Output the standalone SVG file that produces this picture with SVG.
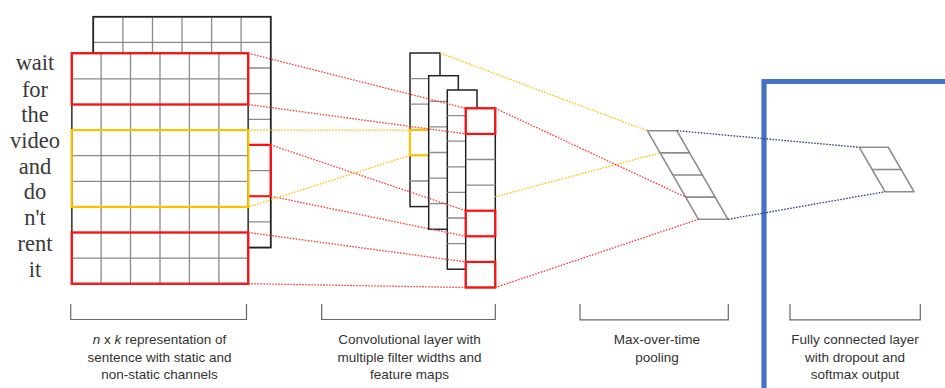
<svg xmlns="http://www.w3.org/2000/svg" width="945" height="388" viewBox="0 0 945 388">
<style>
.grid{stroke:#8a8a8a;stroke-width:1.3;fill:none}
.box{stroke:#222;stroke-width:1.5;fill:#fff}
.red{stroke:#ff1010;stroke-width:2.2;fill:none}
.yel{stroke:#ffc000;stroke-width:2.2;fill:none}
.par{stroke:#8c8c8c;stroke-width:1.6;fill:#fff;stroke-linejoin:round}
.pl{stroke:#8c8c8c;stroke-width:1.6}
.dr{stroke:#ff3a3a;stroke-width:1.3;stroke-dasharray:1.6 1.4;fill:none}
.dy{stroke:#ffc000;stroke-width:1.3;stroke-dasharray:1.6 1.4;fill:none}
.db{stroke:#27417f;stroke-width:1.3;stroke-dasharray:1.6 1.4;fill:none}
.word{font-family:"Liberation Serif","DejaVu Serif",serif;font-size:22.5px;fill:#3a3a3a;text-anchor:middle}
.lab{font-family:"Liberation Sans",Arial,sans-serif;font-size:13.5px;fill:#333;text-anchor:middle}
.brk{stroke:#666;stroke-width:1.2;fill:none}
</style>

<g id="words">
<text class="word" x="35" y="70">wait</text>
<text class="word" x="35" y="96.5">for</text>
<text class="word" x="35" y="122.3">the</text>
<text class="word" x="35" y="148">video</text>
<text class="word" x="35" y="173.5">and</text>
<text class="word" x="35" y="199.3">do</text>
<text class="word" x="35" y="225">n't</text>
<text class="word" x="35" y="251">rent</text>
<text class="word" x="35" y="277">it</text>
</g>

<g id="back-matrix">
<rect class="box" x="93.3" y="16.7" width="177.4" height="230.85"/>
<path class="grid" d="M122.9 16.7V247.5M152.5 16.7V247.5M182 16.7V247.5M211.6 16.7V247.5M241.1 16.7V247.5M93.3 42.35H270.7M93.3 68H270.7M93.3 93.65H270.7M93.3 119.3H270.7M93.3 144.95H270.7M93.3 170.6H270.7M93.3 196.25H270.7M93.3 221.9H270.7"/>
<rect x="93.3" y="16.7" width="177.4" height="230.85" fill="none" stroke="#222" stroke-width="1.5"/>
<polyline class="red" points="248.3,144.95 270.7,144.95 270.7,196.25 248.3,196.25"/>
</g>

<g id="front-matrix">
<rect x="71.7" y="53.3" width="176.6" height="230.4" fill="#fff" stroke="#333" stroke-width="1.5"/>
<path class="grid" d="M101.1 53.3V283.7M130.5 53.3V283.7M160 53.3V283.7M189.4 53.3V283.7M218.9 53.3V283.7M71.7 78.9H248.3M71.7 104.5H248.3M71.7 130.1H248.3M71.7 155.7H248.3M71.7 181.3H248.3M71.7 206.9H248.3M71.7 232.5H248.3M71.7 258.1H248.3"/>
<rect x="71.7" y="53.3" width="176.6" height="230.4" fill="none" stroke="#444" stroke-width="1.4"/>
<rect class="red" x="71.7" y="53.3" width="176.6" height="51.2"/>
<rect class="yel" x="71.7" y="130.1" width="176.6" height="76.8"/>
<rect class="red" x="71.7" y="232.5" width="176.6" height="51.2"/>
</g>

<g id="feature-map-1">
<rect class="box" x="410" y="53" width="30" height="153.6"/>
<path class="grid" d="M410 78.6H440M410 104.2H440M410 129.8H440M410 155.4H440M410 181H440"/>
<polyline class="yel" points="428.7,129.8 410,129.8 410,155.4 428.7,155.4"/>
</g>
<g id="feature-map-2">
<rect class="box" x="428.7" y="75.7" width="29.6" height="153.6"/>
<path class="grid" d="M428.7 101.3H458.3M428.7 126.9H458.3M428.7 152.5H458.3M428.7 178.1H458.3M428.7 203.7H458.3"/>
</g>
<g id="feature-map-3">
<rect class="box" x="447.3" y="90" width="29.7" height="179.2"/>
<path class="grid" d="M447.3 115.6H477M447.3 141.2H477M447.3 166.8H477M447.3 192.4H477M447.3 218H477M447.3 243.6H477"/>
</g>
<g id="feature-map-4">
<rect class="box" x="465.7" y="108.3" width="29.6" height="179.2"/>
<path class="grid" d="M465.7 133.9H495.3M465.7 159.5H495.3M465.7 185.1H495.3M465.7 210.7H495.3M465.7 236.3H495.3M465.7 261.9H495.3"/>
<rect class="red" x="465.7" y="108.3" width="29.6" height="25.6"/>
<rect class="red" x="465.7" y="210.7" width="29.6" height="25.6"/>
<rect class="red" x="465.7" y="261.9" width="29.6" height="25.6"/>
</g>

<g id="pooling">
<polygon class="par" points="647.3,130.7 676.8,130.7 728,219.3 698.5,219.3"/>
<path class="pl" d="M660.1 152.85H689.6M672.9 175H702.4M685.7 197.15H715.2"/>
</g>

<g id="fully-connected">
<polygon class="par" points="859.3,147.3 888.3,147.3 914,191.7 885,191.7"/>
<path class="pl" d="M872.2 169.5H901.2"/>
</g>

<g id="blue-frame">
<path d="M764 388V81.5H945" fill="none" stroke="#4472c4" stroke-width="5.2"/>
</g>

<g id="connectors">
<path class="dr" d="M248.3 53.3L465.7 108.3M248.3 104.5L465.7 133.9M270.7 144.95L465.7 210.7M270.7 196.25L465.7 236.3M248.3 232.5L465.7 261.9M248.3 283.7L465.7 287.5"/>
<path class="dy" d="M248.3 130.1L410 130.1M248.3 206.9L410 155.4"/>
<path class="dy" d="M440 53L647.3 130.7M495.3 196.7L660.1 152.85"/>
<path class="dr" d="M495.3 108.3L685.7 197.15M495.3 287.5L698.5 219.3"/>
<path class="db" d="M676.8 130.7L859.3 147.3M728 219.3L885 191.7"/>
</g>

<g id="labels">
<path class="brk" d="M70.7 304V319.5H246.5V304"/>
<path class="brk" d="M321.7 304V319.5H495.3V304"/>
<path class="brk" d="M580 304V319.8H728.3V304"/>
<path class="brk" d="M790 304V319.8H920.3V304"/>
<text class="lab" x="159.5" y="344"><tspan font-style="italic">n</tspan> x <tspan font-style="italic">k</tspan> representation of</text>
<text class="lab" x="159.5" y="361.5">sentence with static and</text>
<text class="lab" x="159.5" y="378.5">non-static channels</text>
<text class="lab" x="409.5" y="344">Convolutional layer with</text>
<text class="lab" x="409.5" y="361.5">multiple filter widths and</text>
<text class="lab" x="409.5" y="378.5">feature maps</text>
<text class="lab" x="657" y="344">Max-over-time</text>
<text class="lab" x="657" y="361.5">pooling</text>
<text class="lab" x="855" y="344">Fully connected layer</text>
<text class="lab" x="855" y="361.5">with dropout and</text>
<text class="lab" x="855" y="378.5">softmax output</text>
</g>
</svg>
